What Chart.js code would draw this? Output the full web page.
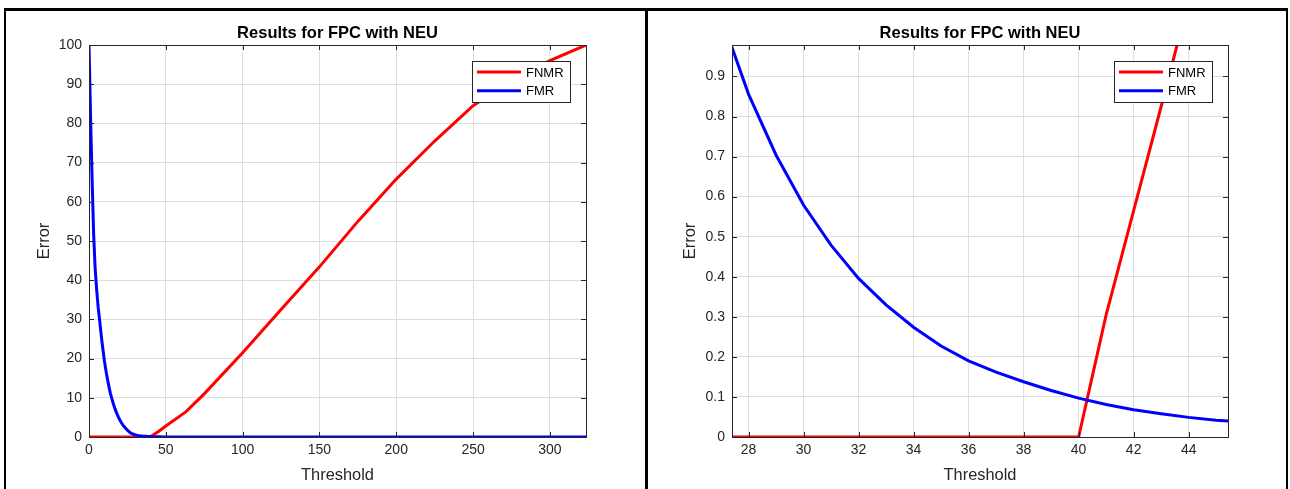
<!DOCTYPE html>
<html>
<head>
<meta charset="utf-8">
<script src="https://cdn.jsdelivr.net/npm/chart.js@4"></script>
<style>
  body { margin: 0; background: #fff; width: 1290px; height: 489px; overflow: hidden; position: relative; }
  canvas { position: absolute; top: 0; }
  #fullChart { left: 0; }
  #zoomChart { left: 648px; }
  .frame { position: absolute; background: #000; }
</style>
</head>
<body>
<canvas id="fullChart" width="645" height="489"></canvas>
<canvas id="zoomChart" width="642" height="489"></canvas>
<div class="frame" style="left:4px;top:8px;width:1284px;height:3px"></div>
<div class="frame" style="left:4px;top:8px;width:2px;height:481px"></div>
<div class="frame" style="left:645px;top:8px;width:3px;height:481px"></div>
<div class="frame" style="left:1286px;top:8px;width:2px;height:481px"></div>
<script>
// datos (umbral -> error)
const seriesNames = ['FNMR', 'FMR'];
const fnmrThreshold = [0, 40, 41, 42, 43, 44, 45, 50, 63, 75, 100, 125, 150, 175, 200, 225, 250, 275, 300, 323.5];
const fnmrError = [0, 0, 0.305, 0.565, 0.825, 1.09, 1.36, 2.8, 6.4, 11, 21.5, 32.5, 43.4, 55, 65.8, 75.5, 84.5, 91, 96, 100];
const fmrThreshold = [0, 1, 2, 3, 4, 5, 6, 7, 8, 9, 10, 11, 12, 13, 14, 15, 16, 17, 18, 19, 20,
    21, 22, 23, 24, 25, 26, 27, 28, 29, 30, 31, 32, 33, 34, 35, 36, 37, 38, 39, 40,
    41, 42, 43, 44, 45, 46, 47, 48, 49, 50, 60, 70, 100, 323.5];
const fmrError = [100, 82, 66, 52, 43, 37.5, 33, 29.5, 25.8, 22.5, 19.5, 17, 14.8, 12.8, 11, 9.6, 8.3, 7.1, 6.1, 5.2, 4.4,
    3.7, 3.1, 2.6, 2.15, 1.75, 1.4, 1.05, 0.856, 0.704, 0.579, 0.479, 0.396, 0.33, 0.274, 0.227, 0.19, 0.162, 0.138, 0.116, 0.097,
    0.081, 0.068, 0.058, 0.049, 0.042, 0.037, 0.032, 0.028, 0.024, 0.021, 0.006, 0.002, 0, 0];

// ticks
const fullXTicks = [0, 50, 100, 150, 200, 250, 300];
const fullYTicks = [0, 10, 20, 30, 40, 50, 60, 70, 80, 90, 100];
const zoomXTicks = [28, 30, 32, 34, 36, 38, 40, 42, 44];
const zoomYTicks = [0, 0.1, 0.2, 0.3, 0.4, 0.5, 0.6, 0.7, 0.8, 0.9];

const FONT = "'Liberation Sans', Arial, sans-serif";
const AXIS = '#262626';

function toPoints(xs, ys) {
    return xs.map((x, i) => ({ x: x, y: ys[i] }));
}

// caja, ticks hacia dentro y leyenda estilo matlab
const matlabBox = {
    id: 'matlabBox',
    afterDraw(chart) {
        const ctx = chart.ctx;
        const a = chart.chartArea;
        const xs = chart.scales.x, ys = chart.scales.y;
        ctx.save();
        ctx.strokeStyle = AXIS;
        ctx.lineWidth = 1;
        ctx.beginPath();
        xs.ticks.forEach(t => {
            const px = Math.round(xs.getPixelForValue(t.value)) + 0.5;
            ctx.moveTo(px, a.bottom); ctx.lineTo(px, a.bottom - 5);
            ctx.moveTo(px, a.top); ctx.lineTo(px, a.top + 5);
        });
        ys.ticks.forEach(t => {
            const py = Math.round(ys.getPixelForValue(t.value)) + 0.5;
            ctx.moveTo(a.left, py); ctx.lineTo(a.left + 5, py);
            ctx.moveTo(a.right, py); ctx.lineTo(a.right - 5, py);
        });
        ctx.stroke();
        ctx.strokeRect(Math.round(a.left) + 0.5, Math.round(a.top) + 0.5,
            Math.round(a.right - a.left), Math.round(a.bottom - a.top));

        // leyenda
        const bx = Math.round(a.right) - 114, by = Math.round(a.top) + 16;
        ctx.fillStyle = '#fff';
        ctx.fillRect(bx, by, 98, 41);
        ctx.strokeRect(bx + 0.5, by + 0.5, 98, 41);
        ctx.font = '13px ' + FONT;
        ctx.textBaseline = 'middle';
        chart.data.datasets.forEach((ds, i) => {
            const ly = by + 11 + i * 18.7;
            ctx.strokeStyle = ds.borderColor;
            ctx.lineWidth = 3;
            ctx.beginPath();
            ctx.moveTo(bx + 5, ly); ctx.lineTo(bx + 49, ly);
            ctx.stroke();
            ctx.fillStyle = '#000';
            ctx.fillText(ds.label, bx + 54, ly + 1);
        });
        ctx.restore();
    }
};

function makeChart(id, xMin, xMax, yMax, xTicks, yTicks, yAxisWidth, rightPad, yTitlePad) {
    const ctx = document.getElementById(id).getContext('2d');
    return new Chart(ctx, {
        type: 'line',
        data: {
            datasets: [
                {
                    label: seriesNames[0],
                    data: toPoints(fnmrThreshold, fnmrError),
                    borderColor: '#ff0000',
                    borderWidth: 3,
                    pointRadius: 0,
                    fill: false,
                    order: 1
                },
                {
                    label: seriesNames[1],
                    data: toPoints(fmrThreshold, fmrError),
                    borderColor: '#0000ff',
                    borderWidth: 3,
                    pointRadius: 0,
                    fill: false,
                    order: 0
                }
            ]
        },
        options: {
            responsive: false,
            animation: false,
            devicePixelRatio: 1,
            events: [],
            layout: { padding: { left: 0, right: rightPad, top: 0, bottom: 0 } },
            plugins: {
                legend: { display: false },
                tooltip: { enabled: false },
                title: {
                    display: true,
                    text: 'Results for FPC with NEU',
                    fullSize: false,
                    color: '#000',
                    font: { family: FONT, size: 16.5, weight: 'bold' },
                    padding: { top: 23.3, bottom: 1.9 }
                }
            },
            scales: {
                x: {
                    type: 'linear',
                    min: xMin,
                    max: xMax,
                    afterBuildTicks: s => { s.ticks = xTicks.map(v => ({ value: v })); },
                    afterFit: s => { s.height = 52; },
                    border: { display: false },
                    grid: { color: '#dedede', drawTicks: false },
                    ticks: {
                        padding: 5,
                        color: AXIS,
                        font: { family: FONT, size: 14 },
                        callback: v => String(v)
                    },
                    title: {
                        display: true,
                        text: 'Threshold',
                        color: AXIS,
                        font: { family: FONT, size: 16.4 },
                        padding: { top: 0, bottom: 3.8 }
                    }
                },
                y: {
                    type: 'linear',
                    min: 0,
                    max: yMax,
                    afterBuildTicks: s => { s.ticks = yTicks.map(v => ({ value: v })); },
                    afterFit: s => { s.width = yAxisWidth; },
                    border: { display: false },
                    grid: { color: '#dedede', drawTicks: false },
                    ticks: {
                        padding: 7,
                        color: AXIS,
                        font: { family: FONT, size: 14 },
                        callback: v => String(v)
                    },
                    title: {
                        display: true,
                        text: 'Error',
                        color: AXIS,
                        font: { family: FONT, size: 16.4 },
                        padding: { top: yTitlePad, bottom: 0 }
                    }
                }
            }
        },
        plugins: [matlabBox]
    });
}

makeChart('fullChart', 0, 323.5, 100, fullXTicks, fullYTicks, 89, 59, 35);
makeChart('zoomChart', 27.4, 45.43, 0.9785, zoomXTicks, zoomYTicks, 84, 62, 32.5);
</script>
</body>
</html>
